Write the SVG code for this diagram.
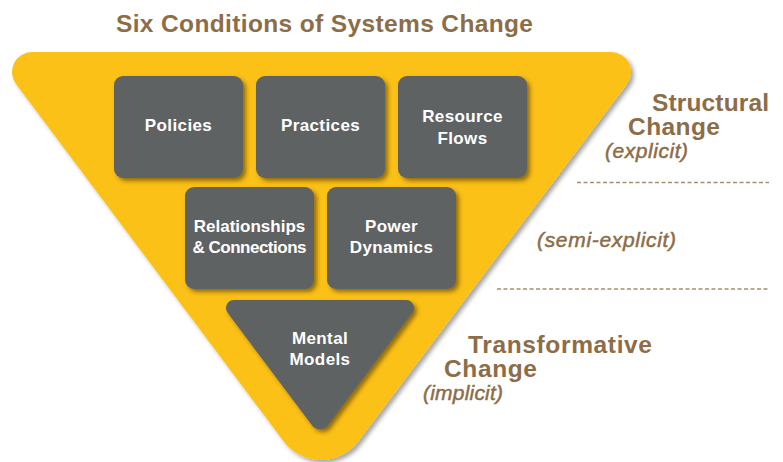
<svg xmlns="http://www.w3.org/2000/svg" width="783" height="462" viewBox="0 0 783 462">
  <defs>
    <filter id="outerShadow" x="-10%" y="-10%" width="120%" height="120%">
      <feDropShadow dx="3" dy="3" stdDeviation="2" flood-color="#000" flood-opacity="0.35"/>
    </filter>
    <filter id="boxShadow" x="-10%" y="-10%" width="125%" height="125%">
      <feDropShadow dx="3" dy="3" stdDeviation="2" flood-color="#3a2a00" flood-opacity="0.55"/>
    </filter>
  </defs>
  <style>
    .box { fill: #5F6264; filter: url(#boxShadow); }
    .lbl { font-family: "Liberation Sans", Arial, sans-serif; font-weight: bold; font-size: 17px; fill: #FFFFFF; text-anchor: middle; letter-spacing: 0.4px; }
    .tight { letter-spacing: 0px; }
    .brown { font-family: "Liberation Sans", Arial, sans-serif; fill: #8C6D47; }
    .big { font-weight: bold; font-size: 24.5px; }
    .ital { font-style: italic; font-size: 21px; stroke: #8C6D47; stroke-width: 0.5; }
    .dash { stroke: #A88E6E; stroke-width: 1.5; stroke-dasharray: 4 2.5; fill: none; }
  </style>

  <text class="brown big" x="116" y="32" textLength="417">Six Conditions of Systems Change</text>

  <g id="funnel">
    <path d="M32,52 L611,52 A20,20 0 0 1 627,84 L358.2,441.4 A46.5,46.5 0 0 1 283.8,441.4 L16,84 A20,20 0 0 1 32,52 Z" fill="#FCC113" filter="url(#outerShadow)"/>
  </g>

  <g id="policies">
    <rect class="box" x="114" y="76" width="129" height="102" rx="9"/>
    <text class="lbl" x="178.5" y="131">Policies</text>
  </g>
  <g id="practices">
    <rect class="box" x="256" y="76" width="129" height="102" rx="9"/>
    <text class="lbl" x="320.5" y="131">Practices</text>
  </g>
  <g id="resource-flows">
    <rect class="box" x="398" y="76" width="129" height="102" rx="9"/>
    <text class="lbl" x="462.5" y="122">Resource</text>
    <text class="lbl" x="462.5" y="144">Flows</text>
  </g>
  <g id="relationships">
    <rect class="box" x="185" y="187" width="129" height="102" rx="9"/>
    <text class="lbl tight" x="249.5" y="232">Relationships</text>
    <text class="lbl tight" x="249.5" y="253" textLength="114">&amp; Connections</text>
  </g>
  <g id="power-dynamics">
    <rect class="box" x="327" y="187" width="129" height="102" rx="9"/>
    <text class="lbl" x="391.5" y="232">Power</text>
    <text class="lbl" x="391.5" y="253">Dynamics</text>
  </g>
  <g id="mental-models">
    <path class="box" d="M234,300 L406,300 A8,8 0 0 1 412.4,312.8 L328,425.3 A10,10 0 0 1 312,425.3 L227.6,312.8 A8,8 0 0 1 234,300 Z"/>
    <text class="lbl" x="320" y="344">Mental</text>
    <text class="lbl" x="320" y="365">Models</text>
  </g>

  <g id="connectors">
    <line class="dash" x1="577" y1="182.5" x2="769" y2="182.5"/>
    <line class="dash" x1="497" y1="289" x2="770" y2="289"/>
  </g>

  <g id="structural-label">
    <text class="brown big" x="652" y="111" textLength="117">Structural</text>
    <text class="brown big" x="628" y="135" textLength="92">Change</text>
    <text class="brown ital" x="605" y="158" textLength="83">(explicit)</text>
  </g>
  <g id="semi-label">
    <text class="brown ital" x="537" y="247" textLength="139">(semi-explicit)</text>
  </g>
  <g id="transformative-label">
    <text class="brown big" x="468" y="353" textLength="184">Transformative</text>
    <text class="brown big" x="444" y="377" textLength="93">Change</text>
    <text class="brown ital" x="423" y="400" textLength="80">(implicit)</text>
  </g>
</svg>
